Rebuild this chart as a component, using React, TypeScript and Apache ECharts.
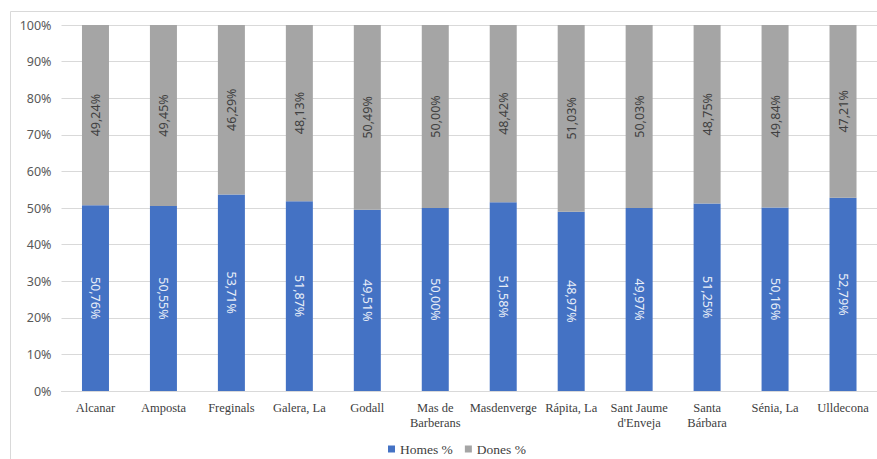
import React, { useEffect, useRef } from "react";
import * as echarts from "echarts";

const categories = [
  "Alcanar",
  "Amposta",
  "Freginals",
  "Galera, La",
  "Godall",
  "Mas de\nBarberans",
  "Masdenverge",
  "Rápita, La",
  "Sant Jaume\nd'Enveja",
  "Santa\nBárbara",
  "Sénia, La",
  "Ulldecona",
];
const homes = [50.76, 50.55, 53.71, 51.87, 49.51, 50.0, 51.58, 48.97, 49.97, 51.25, 50.16, 52.79];
const dones = [49.24, 49.45, 46.29, 48.13, 50.49, 50.0, 48.42, 51.03, 50.03, 48.75, 49.84, 47.21];
const seriesNames = ["Homes %", "Dones %"];

const fmt = (v: number) => v.toFixed(2).replace(".", ",") + "%";

export default function App() {
  const ref = useRef<HTMLDivElement>(null);
  useEffect(() => {
    document.body.style.margin = "0";
    if (!ref.current) return;
    const chart = echarts.init(ref.current, null, { renderer: "svg" });
    const sansFont = "'Noto Sans', 'Open Sans', sans-serif";
    const serifFont = "'Liberation Serif', 'DejaVu Serif', serif";
    chart.setOption({
      animation: false,
      backgroundColor: "#ffffff",
      graphic: [
        {
          type: "rect",
          shape: { x: 10.5, y: 11.5, width: 900, height: 470 },
          style: { fill: "none", stroke: "#d9d9d9", lineWidth: 1 },
          silent: true,
        },
      ],
      grid: { left: 61.5, right: 0, top: 25, bottom: 68, containLabel: false },
      legend: {
        left: 383,
        top: 437,
        itemWidth: 7,
        itemHeight: 7,
        itemGap: 12,
        icon: "rect",
        textStyle: { fontFamily: serifFont, fontSize: 13.5, color: "#404040" },
        data: seriesNames,
      },
      xAxis: {
        type: "category",
        data: categories,
        axisLine: { lineStyle: { color: "#d9d9d9" } },
        axisTick: { show: false },
        axisLabel: {
          fontFamily: serifFont,
          fontSize: 12.5,
          color: "#404040",
          margin: 9,
          lineHeight: 15,
          interval: 0,
        },
      },
      yAxis: {
        type: "value",
        min: 0,
        max: 100,
        interval: 10,
        axisLine: { show: false },
        axisTick: { show: false },
        splitLine: { lineStyle: { color: "#d9d9d9" } },
        axisLabel: {
          formatter: "{value}%",
          fontFamily: sansFont,
          fontSize: 12.5,
          color: "#595959",
          margin: 10,
        },
      },
      series: [
        {
          name: seriesNames[0],
          type: "bar",
          stack: "total",
          data: homes,
          barWidth: 27,
          itemStyle: { color: "#4472C4" },
          label: {
            show: true,
            position: "inside",
            rotate: -90,
            align: "center",
            verticalAlign: "middle",
            fontFamily: sansFont,
            fontSize: 12.5,
            color: "#e8eef8",
            formatter: (p: any) => fmt(p.value),
          },
        },
        {
          name: seriesNames[1],
          type: "bar",
          stack: "total",
          data: dones,
          barWidth: 27,
          itemStyle: { color: "#A5A5A5" },
          label: {
            show: true,
            position: "inside",
            rotate: 90,
            align: "center",
            verticalAlign: "middle",
            fontFamily: sansFont,
            fontSize: 12.5,
            color: "#404040",
            formatter: (p: any) => fmt(p.value),
          },
        },
      ],
    });
    return () => chart.dispose();
  }, []);
  return <div ref={ref} style={{ width: 877, height: 459 }} />;
}
